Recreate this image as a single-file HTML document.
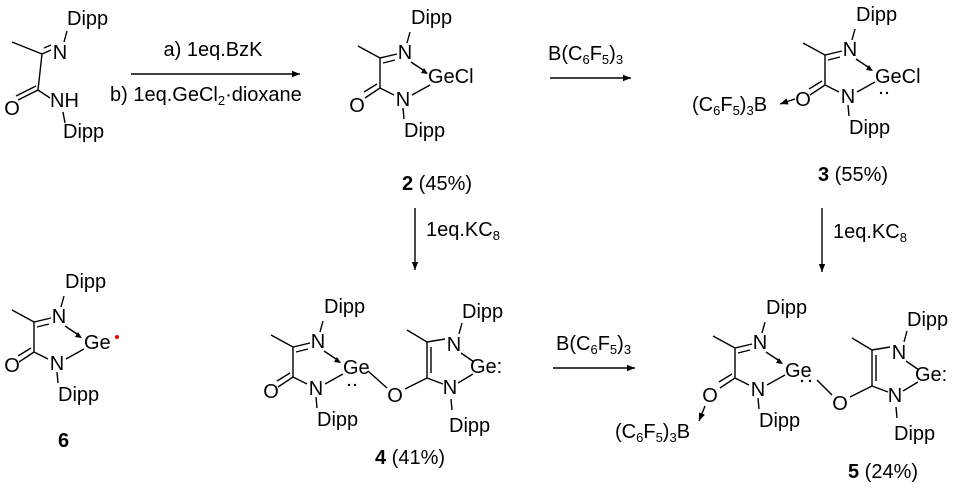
<!DOCTYPE html>
<html><head><meta charset="utf-8"><style>
html,body{margin:0;padding:0;background:#fff;}
svg{display:block;}
text{font-family:"Liberation Sans",Arial,sans-serif;font-size:20px;fill:#000;}
.s{font-size:13px;}
</style></head><body>
<svg width="953" height="489" viewBox="0 0 953 489" xmlns="http://www.w3.org/2000/svg">
<defs>
<g id="ring">
<path d="M-22,-12 L0,0 L17,-4 M3,5 L15,2 M0,0 L0,30 M0,30 L-15,40 M-3,26 L-16,34 M0,30 L14,37 M32,37 L50,27 M27,-15 L30,-26 M23,50 L24,61 M31,4 L43,12" stroke="#000" stroke-width="1.4" fill="none"/>
<path d="M48,16 L41,15 L44,10 Z" fill="#000"/>
<text x="25" y="1" text-anchor="middle">N</text>
<text x="31" y="-34">Dipp</text>
<text x="23" y="48" text-anchor="middle">N</text>
<text x="24" y="79">Dipp</text>
</g>
<g id="enol">
<path d="M-20,-12 L0,0 L0,36 M4,5 L4,31 M0,0 L18,-3 M32,-8 L35,-19 M34,11 L47,20 M46,32 L31,41 M16,42 L0,36 L-22,47 M24,57 L25,68" stroke="#000" stroke-width="1.4" fill="none"/>
<text x="27" y="9" text-anchor="middle">N</text>
<text x="35" y="-24">Dipp</text>
<text x="43" y="31">Ge:</text>
<text x="23" y="52" text-anchor="middle">N</text>
<text x="22" y="90">Dipp</text>
<text x="-32" y="60" text-anchor="middle">O</text>
</g>
<marker id="ah" viewBox="0 0 10 10" refX="10" refY="5" markerWidth="11" markerHeight="8" orient="auto" markerUnits="userSpaceOnUse"><path d="M0,1 L10,5 L0,9 Z" fill="#000"/></marker>
</defs>

<!-- starting material -->
<path d="M12,42 L42,54 L51,50 M44,48 L51,45 M42,54 L38,90 L18,100 M36,86 L16,96 M38,90 L50,98 M64,42 L67,31 M63,112 L65,123" stroke="#000" stroke-width="1.4" fill="none"/>
<text x="60" y="59" text-anchor="middle">N</text>
<text x="67" y="25">Dipp</text>
<text x="12" y="115" text-anchor="middle">O</text>
<text x="50" y="107">NH</text>
<text x="63" y="138">Dipp</text>

<!-- arrow 1 -->
<line x1="131" y1="74" x2="300" y2="74" stroke="#000" stroke-width="1.4" marker-end="url(#ah)"/>
<text x="213" y="56" text-anchor="middle">a) 1eq.BzK</text>
<text x="110" y="101">b) 1eq.GeCl<tspan class="s" dy="4">2</tspan><tspan dy="-4">·dioxane</tspan></text>

<!-- compound 2 -->
<g transform="translate(380,58)"><use href="#ring"/><text x="-23" y="54" text-anchor="middle">O</text><text x="48" y="25">GeCl</text></g>
<text x="402" y="190"><tspan font-weight="bold">2</tspan> (45%)</text>

<!-- arrow 2 -->
<line x1="550" y1="78" x2="631" y2="78" stroke="#000" stroke-width="1.4" marker-end="url(#ah)"/>
<text x="548" y="60">B(C<tspan class="s" dy="4">6</tspan><tspan dy="-4">F</tspan><tspan class="s" dy="4">5</tspan><tspan dy="-4">)</tspan><tspan class="s" dy="4">3</tspan></text>

<!-- compound 3 -->
<g transform="translate(825,55)"><use href="#ring"/><text x="-22" y="51" text-anchor="middle">O</text><text x="50" y="28">GeCl</text><circle cx="56" cy="38" r="1.2"/><circle cx="62" cy="38" r="1.2"/></g>
<line x1="795" y1="99" x2="780" y2="104" stroke="#000" stroke-width="1.4" marker-end="url(#ah)"/>
<text x="692" y="111">(C<tspan class="s" dy="4">6</tspan><tspan dy="-4">F</tspan><tspan class="s" dy="4">5</tspan><tspan dy="-4">)</tspan><tspan class="s" dy="4">3</tspan><tspan dy="-4">B</tspan></text>
<text x="818" y="181"><tspan font-weight="bold">3</tspan> (55%)</text>

<!-- vertical arrows -->
<line x1="415" y1="208" x2="415" y2="270" stroke="#000" stroke-width="1.4" marker-end="url(#ah)"/>
<text x="426" y="236">1eq.KC<tspan class="s" dy="4">8</tspan></text>
<line x1="822" y1="208" x2="822" y2="272" stroke="#000" stroke-width="1.4" marker-end="url(#ah)"/>
<text x="833" y="238">1eq.KC<tspan class="s" dy="4">8</tspan></text>

<!-- compound 6 -->
<g transform="translate(34,322)"><use href="#ring"/><text x="-22" y="50" text-anchor="middle">O</text><text x="50" y="27">Ge</text></g>
<circle cx="117" cy="337" r="2" fill="#e00000"/>
<text x="58" y="447" font-weight="bold">6</text>

<!-- compound 4 -->
<g transform="translate(293,347)"><use href="#ring"/><text x="-22" y="51" text-anchor="middle">O</text><text x="50" y="27">Ge</text><circle cx="56" cy="38" r="1.2"/><circle cx="62" cy="38" r="1.2"/></g>
<line x1="368" y1="371" x2="387" y2="388" stroke="#000" stroke-width="1.4"/>
<g transform="translate(427,342)"><use href="#enol"/></g>
<text x="375" y="464"><tspan font-weight="bold">4</tspan> (41%)</text>

<!-- arrow 4->5 -->
<line x1="553" y1="368" x2="635" y2="368" stroke="#000" stroke-width="1.4" marker-end="url(#ah)"/>
<text x="556" y="350">B(C<tspan class="s" dy="4">6</tspan><tspan dy="-4">F</tspan><tspan class="s" dy="4">5</tspan><tspan dy="-4">)</tspan><tspan class="s" dy="4">3</tspan></text>

<!-- compound 5 -->
<g transform="translate(735,348)"><use href="#ring"/><text x="-25" y="54" text-anchor="middle">O</text><text x="50" y="29">Ge</text><circle cx="67" cy="33" r="1.2"/><circle cx="75" cy="33" r="1.2"/></g>
<line x1="705" y1="406" x2="699" y2="421" stroke="#000" stroke-width="1.4" marker-end="url(#ah)"/>
<text x="615" y="438">(C<tspan class="s" dy="4">6</tspan><tspan dy="-4">F</tspan><tspan class="s" dy="4">5</tspan><tspan dy="-4">)</tspan><tspan class="s" dy="4">3</tspan><tspan dy="-4">B</tspan></text>
<line x1="817" y1="380" x2="832" y2="395" stroke="#000" stroke-width="1.4"/>
<g transform="translate(872,350)"><use href="#enol"/></g>
<text x="848" y="478"><tspan font-weight="bold">5</tspan> (24%)</text>
</svg>
</body></html>
